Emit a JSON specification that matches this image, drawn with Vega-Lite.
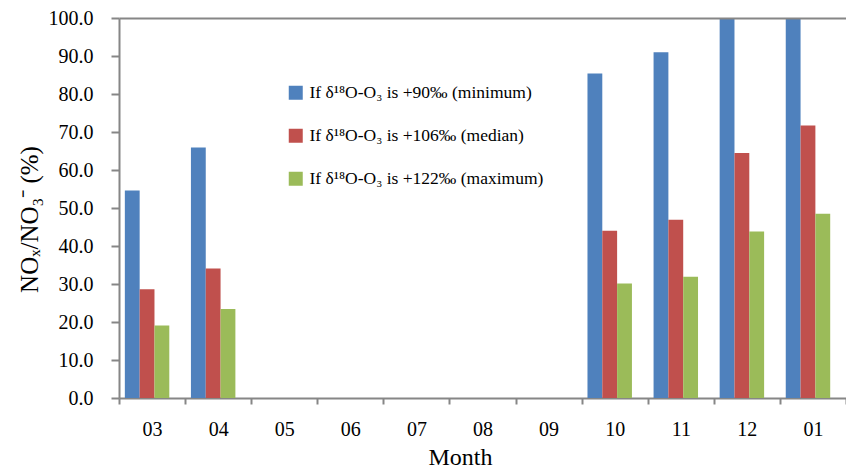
{
  "$schema": "https://vega.github.io/schema/vega-lite/v6.json",
  "width": 727,
  "height": 380,
  "autosize": {"type": "none"},
  "padding": {"left": 119, "top": 18, "right": 0, "bottom": 73},
  "background": "white",
  "config": {
    "view": {"stroke": null},
    "font": "Liberation Serif",
    "axisY": {"tickCount": 10, "labelOverlap": false}
  },
  "data": {
    "values": [
      {"month": "03", "scenario": "min", "value": 54.6},
      {"month": "03", "scenario": "med", "value": 28.6},
      {"month": "03", "scenario": "max", "value": 19.1},
      {"month": "04", "scenario": "min", "value": 65.9},
      {"month": "04", "scenario": "med", "value": 34.1},
      {"month": "04", "scenario": "max", "value": 23.4},
      {"month": "05", "scenario": "min", "value": 0},
      {"month": "05", "scenario": "med", "value": 0},
      {"month": "05", "scenario": "max", "value": 0},
      {"month": "06", "scenario": "min", "value": 0},
      {"month": "06", "scenario": "med", "value": 0},
      {"month": "06", "scenario": "max", "value": 0},
      {"month": "07", "scenario": "min", "value": 0},
      {"month": "07", "scenario": "med", "value": 0},
      {"month": "07", "scenario": "max", "value": 0},
      {"month": "08", "scenario": "min", "value": 0},
      {"month": "08", "scenario": "med", "value": 0},
      {"month": "08", "scenario": "max", "value": 0},
      {"month": "09", "scenario": "min", "value": 0},
      {"month": "09", "scenario": "med", "value": 0},
      {"month": "09", "scenario": "max", "value": 0},
      {"month": "10", "scenario": "min", "value": 85.4},
      {"month": "10", "scenario": "med", "value": 44.0},
      {"month": "10", "scenario": "max", "value": 30.1},
      {"month": "11", "scenario": "min", "value": 91.0},
      {"month": "11", "scenario": "med", "value": 46.9},
      {"month": "11", "scenario": "max", "value": 31.9},
      {"month": "12", "scenario": "min", "value": 100.0},
      {"month": "12", "scenario": "med", "value": 64.5},
      {"month": "12", "scenario": "max", "value": 43.8},
      {"month": "01", "scenario": "min", "value": 100.0},
      {"month": "01", "scenario": "med", "value": 71.7},
      {"month": "01", "scenario": "max", "value": 48.5}
    ]
  },
  "mark": {"type": "bar"},
  "encoding": {
    "x": {
      "field": "month",
      "type": "nominal",
      "sort": ["03", "04", "05", "06", "07", "08", "09", "10", "11", "12", "01"],
      "scale": {"paddingInner": 0, "paddingOuter": 0},
      "axis": {
        "title": "Month",
        "titleFont": "Liberation Serif",
        "titleFontSize": 24,
        "titleFontWeight": "normal",
        "titleColor": "#000000",
        "titleX": 341,
        "titlePadding": 6,
        "labelAngle": 0,
        "labelFont": "Liberation Serif",
        "labelFontSize": 20,
        "labelColor": "#000000",
        "labelPadding": 15,
        "tickBand": "extent",
        "tickSize": 6,
        "tickColor": "#868686",
        "tickWidth": 2,
        "domainColor": "#868686",
        "domainWidth": 2
      }
    },
    "xOffset": {
      "field": "scenario",
      "type": "nominal",
      "scale": {"domain": ["min", "med", "max"], "paddingInner": 0, "paddingOuter": 0.73, "align": 0.27}
    },
    "y": {
      "field": "value",
      "type": "quantitative",
      "scale": {"domain": [0, 100], "nice": false, "zero": true},
      "axis": {
        "title": "NOₓ/NO₃⁻ (%)",
        "titleFont": "Liberation Serif",
        "titleFontSize": 25,
        "titleFontWeight": "normal",
        "titleColor": "#000000",
        "titlePadding": 6,
        "titleY": 201,
        "tickCount": 10,
        "format": ".1f",
        "labelOverlap": false,
        "labelFont": "Liberation Serif",
        "labelFontSize": 20,
        "labelColor": "#000000",
        "labelPadding": 18,
        "tickSize": 8,
        "tickColor": "#868686",
        "tickWidth": 2,
        "domainColor": "#868686",
        "domainWidth": 2,
        "grid": true,
        "gridWidth": 2,
        "gridColor": {"condition": {"test": "datum.value >= 99.9", "value": "#868686"}, "value": "transparent"},
        "zindex": 1
      }
    },
    "color": {
      "field": "scenario",
      "type": "nominal",
      "scale": {
        "domain": ["min", "med", "max"],
        "range": ["#4F81BD", "#C0504D", "#9BBB59"]
      },
      "legend": {
        "title": null,
        "orient": "none",
        "legendX": 168,
        "legendY": 66,
        "symbolType": "square",
        "symbolSize": 196,
        "symbolStrokeWidth": 0,
        "labelFont": "Liberation Serif",
        "labelFontSize": 17.5,
        "labelColor": "#000000",
        "labelLimit": 0,
        "labelOffset": 5,
        "rowPadding": 24,
        "labelExpr": "datum.value == 'min' ? 'If δ¹⁸O-O₃ is +90‰ (minimum)' : datum.value == 'med' ? 'If δ¹⁸O-O₃ is +106‰ (median)' : 'If δ¹⁸O-O₃ is +122‰ (maximum)'"
      }
    }
  }
}
